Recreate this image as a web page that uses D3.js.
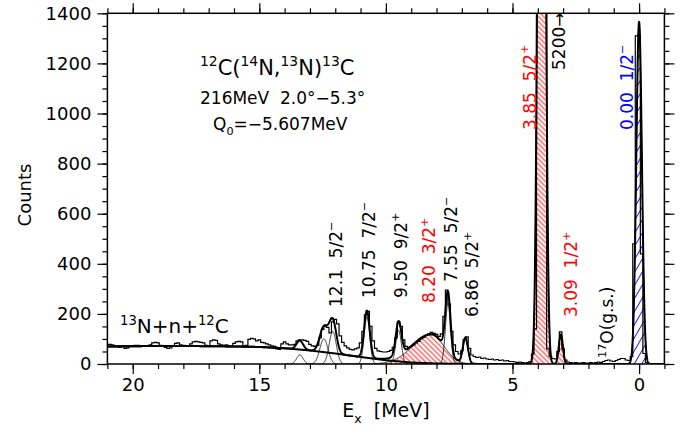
<!DOCTYPE html>
<html>
<head>
<meta charset="utf-8">
<script src="https://cdn.jsdelivr.net/npm/d3@7"></script>
<style>
  body { margin: 0; background: #fff; }
  svg text { font-family: "DejaVu Sans", "Liberation Sans", sans-serif; }
</style>
</head>
<body>
<svg id="chart" width="690" height="426"></svg>
<script>
// ---- measured spectrum: counts per 0.1 MeV bin, bin centres 21.0 MeV down to -0.4 MeV
const binStart = 21.0;
const binWidth = 0.1;
const counts = [
  78, 78, 76, 72, 68, 66, 70, 62, 64, 70,        // 21.0 .. 20.1
  70, 74, 74, 72, 72, 70, 70, 76, 84, 86,        // 20.0 .. 19.1
  84, 74, 70, 66, 62, 64, 72, 82, 84, 76,        // 19.0 .. 18.1
  74, 70, 72, 80, 88, 90, 88, 86, 84, 74,        // 18.0 .. 17.1
  70, 92, 96, 94, 80, 76, 74, 76, 72, 70,        // 17.0 .. 16.1
  82, 88, 90, 88, 72, 74, 98, 102, 100, 92,      // 16.0 .. 15.1
  96, 86, 84, 80, 76, 72, 70, 60, 58, 80,        // 15.0 .. 14.1
  88, 80, 76, 76, 78, 92, 96, 96, 94, 90,        // 14.0 .. 13.1
  78, 72, 70, 74, 104, 138, 150, 146, 124, 168,  // 13.0 .. 12.1
  178, 160, 112, 86, 72, 64, 58, 56, 60, 64,     // 12.0 .. 11.1
  84, 130, 196, 210, 150, 92, 62, 52, 50, 48,    // 11.0 .. 10.1
  48, 50, 54, 66, 104, 168, 150, 96, 70, 66,     // 10.0 .. 9.1
  70, 76, 84, 90, 100, 106, 114, 120, 126, 122,  //  9.0 .. 8.1
  118, 110, 120, 190, 295, 240, 130, 76, 50, 40, //  8.0 .. 7.1
  52, 96, 108, 62, 36, 30, 26, 28, 22, 24,       //  7.0 .. 6.1
  20, 18, 20, 16, 18, 14, 16, 12, 14, 10,        //  6.0 .. 5.1
  10, 8, 6, 8, 6, 4, 6, 10, 40, 140,             //  5.0 .. 4.1
  2600, 5200, 5100, 2100, 60, 30, 22, 20, 50, 128, // 4.0 .. 3.1
  60, 16, 8, 6, 4, 6, 4, 4, 6, 4,                //  3.0 .. 2.1
  4, 6, 4, 6, 8, 6, 10, 14, 16, 12,              //  2.0 .. 1.1
  10, 14, 18, 22, 22, 16, 14, 30, 480, 1310,     //  1.0 .. 0.1
  1315, 440, 42, 6, 0                            //  0.0 .. -0.4
];

// ---- three-body continuum 13N+n+12C (smooth background)
const bgEnergy = [21, 20, 19, 18, 17, 16, 15, 14, 13, 12, 11, 10, 9, 8, 7, 6, 5];
const bgCounts = [70, 71, 72, 72, 71, 70, 68, 63, 54, 42, 28, 15, 6, 2, 0.5, 0, 0];

// ---- fitted peaks (Gaussian; separate widths on the high-Ex and low-Ex side)
const peakEnergy  = [13.40, 12.45, 12.10, 10.75, 9.50, 8.20, 7.55, 6.86, 3.85, 3.09, 0.00];
const peakHeight  = [36,    100,   130,   188,   135,  116,  240,  102,  5200, 118,  1366];
const peakSigmaHi = [0.13,  0.16,  0.14,  0.11,  0.11, 0.75, 0.10, 0.10, 0.115, 0.08, 0.11];
const peakSigmaLo = [0.13,  0.16,  0.14,  0.11,  0.11, 0.50, 0.10, 0.10, 0.115, 0.08, 0.11];

// ---- level labels
const levelText   = ["12.1", "10.75", "9.50", "8.20", "7.55", "6.86", "3.85", "3.09", "0.00"];
const levelEnergy = [12.10, 10.75, 9.50, 8.20, 7.55, 6.86, 3.85, 3.09, 0.00];
const levelJ      = ["5/2", "7/2", "9/2", "3/2", "5/2", "5/2", "5/2", "1/2", "1/2"];
const levelParity = ["−", "−", "+", "+", "−", "+", "+", "+", "−"];

// ---- axis ticks
const xMajorTicks = [20, 15, 10, 5, 0];
const yMajorTicks = [0, 200, 400, 600, 800, 1000, 1200, 1400];

// ---------------------------------------------------------------------------
const plot = { left: 107.4, right: 664.4, top: 13.3, bottom: 364 };
const svg = d3.select("#chart");

const x = d3.scaleLinear().domain([21, -1]).range([plot.left, plot.right]);
const y = d3.scaleLinear().domain([0, 1400]).range([plot.bottom, plot.top]);

// hatch styles for the highlighted states
const hatchStyle = { 8.2: "hatchRed", 3.85: "hatchRed", 3.09: "hatchRed", 0: "hatchBlue" };
const labelColour = { "8.20": "#ff0000", "3.85": "#ff0000", "3.09": "#ff0000", "0.00": "#0000ff" };
// label placement: [dx from the level energy in px, bottom y of rotated text]
const labelPlace = {
  "12.1": [9, 307], "10.75": [8, 298], "9.50": [8, 298], "8.20": [4, 303],
  "7.55": [9, 282], "6.86": [13, 317], "3.85": [-6, 130], "3.09": [16, 317], "0.00": [-6, 130]
};

const defs = svg.append("defs");
defs.append("clipPath").attr("id", "plotClip").append("rect")
  .attr("x", plot.left).attr("y", plot.top)
  .attr("width", plot.right - plot.left).attr("height", plot.bottom - plot.top);

function hatch(id, colour, spacing, angle) {
  const p = defs.append("pattern").attr("id", id)
    .attr("patternUnits", "userSpaceOnUse")
    .attr("width", spacing).attr("height", 10)
    .attr("patternTransform", `rotate(${angle})`);
  p.append("line").attr("x1", spacing / 2).attr("x2", spacing / 2)
    .attr("y1", 0).attr("y2", 10)
    .attr("stroke", colour).attr("stroke-width", 0.9);
}
hatch("hatchRed", "#ff0000", 3.6, -45);
hatch("hatchBlue", "#0000ff", 6.5, 30);

// model pieces
const bgInterp = d3.scaleLinear().domain(bgEnergy).range(bgCounts).clamp(true);
const bgAt = e => (e < bgEnergy[bgEnergy.length - 1] ? 0 : bgInterp(e));
function peakAt(i, e) {
  const s = e >= peakEnergy[i] ? peakSigmaHi[i] : peakSigmaLo[i];
  const d = e - peakEnergy[i];
  return peakHeight[i] * Math.exp(-d * d / (2 * s * s));
}
const step = 0.005;
const gridE = d3.range(21.0, -1.0 - step / 2, -step);

const g = svg.append("g").attr("clip-path", "url(#plotClip)");
const line = d3.line().x(d => x(d[0])).y(d => y(d[1]));
const area = d3.area().x(d => x(d[0])).y0(y(0)).y1(d => y(d[1]));

// components
peakEnergy.forEach((e0, i) => {
  const lo = e0 - 4.5 * peakSigmaLo[i], hi = e0 + 4.5 * peakSigmaHi[i];
  const pts = d3.range(hi, lo, -step).map(e => [e, peakAt(i, e)]);
  const pat = hatchStyle[e0];
  if (pat) {
    g.append("path").datum(pts).attr("d", area).attr("fill", `url(#${pat})`);
  }
  g.append("path").datum(pts).attr("d", line)
    .attr("fill", "none").attr("stroke", "#000").attr("stroke-width", 0.8);
});

// background curve
g.append("path").datum(gridE.filter(e => e >= 5.5).map(e => [e, bgAt(e)]))
  .attr("d", line).attr("fill", "none").attr("stroke", "#000").attr("stroke-width", 2);

// total fit
const total = gridE.map(e => [e, bgAt(e) + peakEnergy.reduce((s, _, i) => s + peakAt(i, e), 0)]);
g.append("path").datum(total).attr("d", line)
  .attr("fill", "none").attr("stroke", "#000").attr("stroke-width", 2)
  .attr("stroke-linejoin", "round");

// measured histogram (steps)
const histPts = [];
counts.forEach((c, i) => {
  const centre = binStart - i * binWidth;
  histPts.push([centre + binWidth / 2, c], [centre - binWidth / 2, c]);
});
histPts.push([histPts[histPts.length - 1][0], 0]);
g.append("path").datum(histPts).attr("d", line)
  .attr("fill", "none").attr("stroke", "#000").attr("stroke-width", 1.2);

// ---- rich text helper (super/subscripts)
function rich(sel, parts, base) {
  let shift = 0;
  parts.forEach(([s, kind]) => {
    const target = kind === "sup" ? -0.42 * base : kind === "sub" ? 0.3 * base : 0;
    sel.append("tspan").text(s)
      .attr("dy", target - shift)
      .style("font-size", (kind ? 0.66 * base : base) + "px");
    shift = target;
  });
  return sel;
}

// level labels (rotated)
levelText.forEach((t, i) => {
  const [dx, by] = labelPlace[t];
  const bx = x(levelEnergy[i]) + dx;
  const txt = svg.append("text")
    .attr("transform", `translate(${bx},${by}) rotate(-90)`)
    .attr("fill", labelColour[t] || "#000");
  rich(txt, [[t + "\u00a0\u00a0" + levelJ[i], ""], [levelParity[i], "sup"]], 17);
});

// off-scale marker for the 3.85 MeV peak
rich(svg.append("text").attr("transform", `translate(565,70) rotate(-90)`).attr("fill", "#000"),
  [[String(peakHeight[peakEnergy.indexOf(3.85)]) + "→", ""]], 17);
// 17O ground-state contaminant
rich(svg.append("text").attr("transform", `translate(613,358) rotate(-90)`).attr("fill", "#000"),
  [["17", "sup"], ["O(g.s.)", ""]], 17);

// continuum label
rich(svg.append("text").attr("x", 120).attr("y", 333).attr("fill", "#000"),
  [["13", "sup"], ["N+n+", ""], ["12", "sup"], ["C", ""]], 20);

// reaction title
rich(svg.append("text").attr("x", 200).attr("y", 75),
  [["12", "sup"], ["C(", ""], ["14", "sup"], ["N,", ""], ["13", "sup"], ["N)", ""], ["13", "sup"], ["C", ""]], 21);
rich(svg.append("text").attr("x", 200).attr("y", 104),
  [["216MeV\u00a0\u00a02.0°−5.3°", ""]], 17);
rich(svg.append("text").attr("x", 213).attr("y", 130),
  [["Q", ""], ["0", "sub"], ["=−5.607MeV", ""]], 17);

// ---- axes
function axis(gen, tx, ty, labels) {
  const a = svg.append("g").attr("transform", `translate(${tx},${ty})`).call(gen);
  a.select(".domain").remove();
  a.selectAll(".tick line").attr("stroke", "#000").attr("stroke-width", 1.2);
  a.selectAll("text").attr("fill", "#000")
    .style("font-size", "18px").style("font-family", "'DejaVu Sans', sans-serif");
  if (!labels) a.selectAll("text").remove();
  return a;
}
const xMinor = d3.range(-1, 22);
const yMinor = d3.range(0, 1401, 50);
axis(d3.axisBottom(x).tickValues(xMinor).tickSize(5).tickSizeOuter(0), 0, plot.bottom, false);
axis(d3.axisBottom(x).tickValues(xMajorTicks).tickSize(10).tickPadding(4).tickSizeOuter(0).tickFormat(d3.format("d")), 0, plot.bottom, true);
axis(d3.axisTop(x).tickValues(xMinor).tickSize(5).tickSizeOuter(0), 0, plot.top, false);
axis(d3.axisTop(x).tickValues(xMajorTicks).tickSize(10).tickSizeOuter(0), 0, plot.top, false);
axis(d3.axisLeft(y).tickValues(yMinor).tickSize(5).tickSizeOuter(0), plot.left, 0, false);
axis(d3.axisLeft(y).tickValues(yMajorTicks).tickSize(10).tickPadding(6).tickSizeOuter(0).tickFormat(d3.format("d")), plot.left, 0, true);
axis(d3.axisRight(y).tickValues(yMinor).tickSize(5).tickSizeOuter(0), plot.right, 0, false);
axis(d3.axisRight(y).tickValues(yMajorTicks).tickSize(10).tickSizeOuter(0), plot.right, 0, false);

svg.append("rect")
  .attr("x", plot.left).attr("y", plot.top)
  .attr("width", plot.right - plot.left).attr("height", plot.bottom - plot.top)
  .attr("fill", "none").attr("stroke", "#000").attr("stroke-width", 1.5);

// axis titles
rich(svg.append("text").attr("x", 386).attr("y", 417).attr("text-anchor", "middle"),
  [["E", ""], ["x", "sub"], ["\u00a0\u00a0[MeV]", ""]], 19);
svg.append("text").attr("transform", "translate(31,195) rotate(-90)")
  .attr("text-anchor", "middle").style("font-size", "18px").text("Counts");
</script>
</body>
</html>
